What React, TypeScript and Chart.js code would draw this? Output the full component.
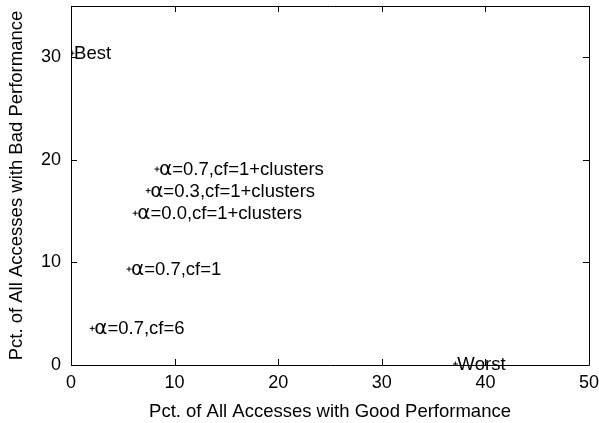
import React, { useEffect, useRef } from "react";
import { Chart, registerables } from "chart.js";

Chart.register(...registerables);

const pointLabels = [
  "Best",
  "α=0.7,cf=1+clusters",
  "α=0.3,cf=1+clusters",
  "α=0.0,cf=1+clusters",
  "α=0.7,cf=1",
  "α=0.7,cf=6",
  "Worst",
];
const goodPct = [0.1, 8.3, 7.45, 6.2, 5.6, 2.05, 37.1];
const badPct = [30.4, 19.1, 17.0, 14.8, 9.35, 3.57, 0.1];
const xTicks = [0, 10, 20, 30, 40, 50];
const yTicks = [0, 10, 20, 30];

const FONT = "'Liberation Sans', Arial, Helvetica, sans-serif";
const GREEK_FONT = "20px 'DejaVu Sans', sans-serif";

const framePlugin = {
  id: "frame",
  afterDatasetsDraw(chart: any) {
    const { ctx, chartArea: a } = chart;
    const xs = chart.scales.x;
    const ys = chart.scales.y;
    ctx.save();
    ctx.strokeStyle = "#000";
    ctx.lineWidth = 1;
    ctx.beginPath();
    ctx.rect(Math.round(a.left) + 0.5, Math.round(a.top) + 0.5, Math.round(a.right - a.left), Math.round(a.bottom - a.top));
    ctx.stroke();
    const L = 6;
    ctx.beginPath();
    for (const v of xTicks) {
      const px = Math.round(xs.getPixelForValue(v)) + 0.5;
      ctx.moveTo(px, a.bottom);
      ctx.lineTo(px, a.bottom - L);
      ctx.moveTo(px, a.top);
      ctx.lineTo(px, a.top + L);
    }
    for (const v of yTicks) {
      const py = Math.round(ys.getPixelForValue(v)) + 0.5;
      ctx.moveTo(a.left, py);
      ctx.lineTo(a.left + L, py);
      ctx.moveTo(a.right, py);
      ctx.lineTo(a.right - L, py);
    }
    ctx.stroke();
    const meta = chart.getDatasetMeta(0);
    ctx.fillStyle = "#000";
    ctx.textAlign = "left";
    ctx.textBaseline = "alphabetic";
    const mainFont = `18.5px ${FONT}`;
    meta.data.forEach((el: any, i: number) => {
      const text = pointLabels[i];
      let x = el.x + 2;
      const y = el.y + 6;
      for (const ch of Array.from(text)) {
        ctx.font = ch === "α" ? GREEK_FONT : mainFont;
        ctx.fillText(ch, x, y);
        x += ctx.measureText(ch).width;
      }
    });
    ctx.restore();
  },
};

export default function App() {
  const ref = useRef<HTMLCanvasElement | null>(null);
  useEffect(() => {
    document.body.style.margin = "0";
    const chart = new Chart(ref.current!, {
      type: "scatter",
      data: {
        datasets: [
          {
            data: goodPct.map((x, i) => ({ x, y: badPct[i] })),
            pointStyle: "cross",
            radius: 2.5,
            borderColor: "#000",
            backgroundColor: "#000",
            borderWidth: 1,
          },
        ],
      },
      options: {
        animation: false,
        responsive: false,
        events: [],
        layout: { padding: { top: 6, right: 10, left: 0, bottom: 0 } },
        plugins: { legend: { display: false }, tooltip: { enabled: false } },
        scales: {
          x: {
            type: "linear",
            min: 0,
            max: 50,
            afterBuildTicks: (s: any) => {
              s.ticks = xTicks.map((v) => ({ value: v }));
            },
            afterFit: (s: any) => {
              s.height = 58;
              s.paddingLeft = 0;
              s.paddingRight = 0;
            },
            grid: { display: false, drawTicks: false },
            border: { display: false },
            ticks: { padding: 7, color: "#000", font: { family: FONT, size: 18 }, maxRotation: 0 },
            title: {
              display: true,
              text: "Pct. of All Accesses with Good Performance",
              color: "#000",
              font: { family: FONT, size: 18.5 },
              padding: { top: 0, bottom: 0 },
            },
          },
          y: {
            type: "linear",
            min: 0,
            max: 35,
            afterBuildTicks: (s: any) => {
              s.ticks = yTicks.map((v) => ({ value: v }));
            },
            afterFit: (s: any) => {
              s.width = 71;
              s.paddingTop = 0;
              s.paddingBottom = 0;
            },
            grid: { display: false, drawTicks: false },
            border: { display: false },
            ticks: { padding: 10, color: "#000", font: { family: FONT, size: 18 } },
            title: {
              display: true,
              text: "Pct. of All Accesses with Bad Performance",
              color: "#000",
              font: { family: FONT, size: 18.5 },
              padding: { top: 6, bottom: 0 },
            },
          },
        },
      },
      plugins: [framePlugin],
    });
    return () => chart.destroy();
  }, []);
  return (
    <div style={{ width: 599, height: 423, background: "#fff" }}>
      <canvas ref={ref} width={599} height={423} style={{ display: "block" }} />
    </div>
  );
}
